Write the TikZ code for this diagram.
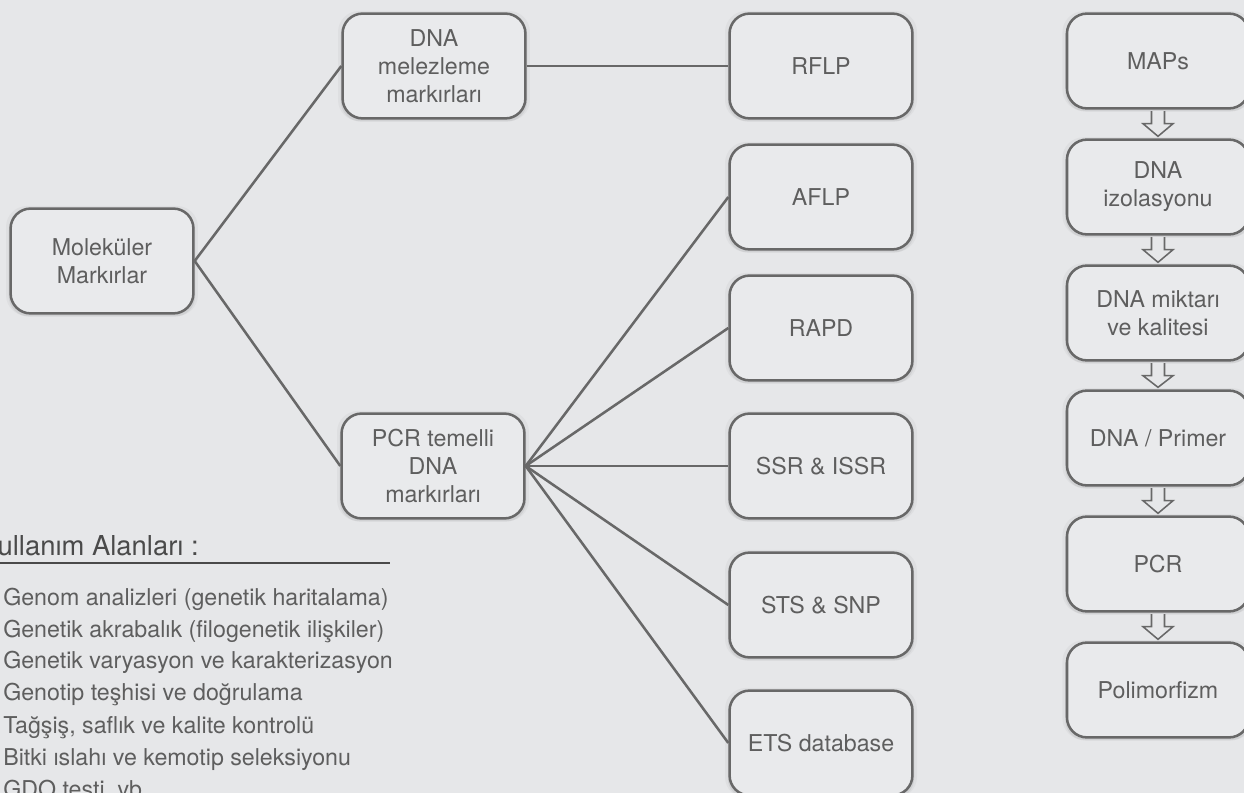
\documentclass[tikz,border=0pt]{standalone}
\usepackage{fontspec}
\setsansfont{TeX Gyre Heros}
\usepackage{tikz}
\usetikzlibrary{calc,shadows}
\usepackage{xcolor}
\definecolor{bggray}{HTML}{E6E7E9}
\definecolor{boxgray}{HTML}{E9EAEC}
\definecolor{linegray}{HTML}{686868}
\definecolor{txtgray}{HTML}{5E5E5E}
\definecolor{headgray}{HTML}{4A4A4A}

\begin{document}
\begin{tikzpicture}[x=0.025cm, y=-0.025cm,
    every node/.style={font=\sffamily\fontsize{16.5}{20}\selectfont, text=txtgray},
    markbox/.style={draw=linegray, line width=1.8pt, fill=boxgray, rounded corners=0.5cm,
        align=center, minimum width=4.57cm, minimum height=2.62cm,
        drop shadow={shadow xshift=0pt, shadow yshift=0pt, shadow scale=1.05, opacity=.07},
        drop shadow={shadow xshift=0pt, shadow yshift=-1.5pt, shadow scale=1.02, opacity=.14}},
    stepbox/.style={markbox, minimum width=4.55cm, minimum height=2.37cm},
    link/.style={draw=linegray, line width=1.8pt},
    hollow/.style={draw=linegray, line width=1.1pt, fill=bggray}]
    \useasboundingbox (0,0) rectangle (1244,793);
    \clip (0,0) rectangle (1244,793);
    \fill[bggray] (0,0) rectangle (1244,793);

    % -------------------------
    % Left tree
    % -------------------------
    \node[markbox] (mol) at (102,261) {Moleküler\\Markırlar};
    \node[markbox] (dnamel) at (434,66) {DNA\\melezleme\\markırları};
    \node[markbox] (pcrdna) at (433,466) {PCR temelli\\DNA\\markırları};

    \draw[link] (mol.east) -- (dnamel.west);
    \draw[link] (mol.east) -- (pcrdna.west);

    % -------------------------
    % Marker types
    % -------------------------
    \node[markbox] (rflp) at (821,66) {RFLP};
    \node[markbox] (aflp) at (821,197) {AFLP};
    \node[markbox] (rapd) at (821,328) {RAPD};
    \node[markbox] (ssr) at (821,466) {SSR \& ISSR};
    \node[markbox] (sts) at (821,605) {STS \& SNP};
    \node[markbox] (ets) at (821,743) {ETS database};

    \draw[link] (dnamel.east) -- (rflp.west);
    \draw[link] (pcrdna.east) -- (aflp.west);
    \draw[link] (pcrdna.east) -- (rapd.west);
    \draw[link] (pcrdna.east) -- (ssr.west);
    \draw[link] (pcrdna.east) -- (sts.west);
    \draw[link] (pcrdna.east) -- (ets.west);

    % -------------------------
    % Right column (steps)
    % -------------------------
    \node[stepbox] (maps) at (1158,61) {MAPs};
    \node[stepbox] (dnaiz) at (1158,187) {DNA\\izolasyonu};
    \node[stepbox] (dnamik) at (1158,313) {DNA miktarı\\ve kalitesi};
    \node[stepbox] (primer) at (1158,438) {DNA / Primer};
    \node[stepbox] (pcr) at (1158,564) {PCR};
    \node[stepbox] (poli) at (1158,690) {Polimorfizm};

    \foreach \a/\b in {maps/dnaiz, dnaiz/dnamik, dnamik/primer, primer/pcr, pcr/poli}
        \draw[hollow] ($(\a.south)+(-6.5,1.5)$) -- ($(\a.south)+(-6.5,14)$) -- ($(\a.south)+(-15,14)$)
            -- ($(\b.north)+(0,-2)$) -- ($(\a.south)+(15,14)$) -- ($(\a.south)+(6.5,14)$)
            -- ($(\a.south)+(6.5,1.5)$);

    % -------------------------
    % Usage list
    % -------------------------
    \node[anchor=base east, inner sep=0, text=headgray, font=\sffamily\fontsize{19.5}{22}\selectfont]
        (usehead) at (199,555) {Kullanım Alanları :};
    \draw[headgray, line width=2.1pt] (0,563) -- (390,563);
    \node[anchor=base west, inner sep=0] (use1) at (3,605) {Genom analizleri (genetik haritalama)};
    \node[anchor=base west, inner sep=0] (use2) at (3,637) {Genetik akrabalık (filogenetik ilişkiler)};
    \node[anchor=base west, inner sep=0] (use3) at (3,668) {Genetik varyasyon ve karakterizasyon};
    \node[anchor=base west, inner sep=0] (use4) at (3,700) {Genotip teşhisi ve doğrulama};
    \node[anchor=base west, inner sep=0] (use5) at (3,733) {Tağşiş, saflık ve kalite kontrolü};
    \node[anchor=base west, inner sep=0] (use6) at (3,765) {Bitki ıslahı ve kemotip seleksiyonu};
    \node[anchor=base west, inner sep=0] (use7) at (3,797) {GDO testi, vb.};

\end{tikzpicture}
\end{document}
